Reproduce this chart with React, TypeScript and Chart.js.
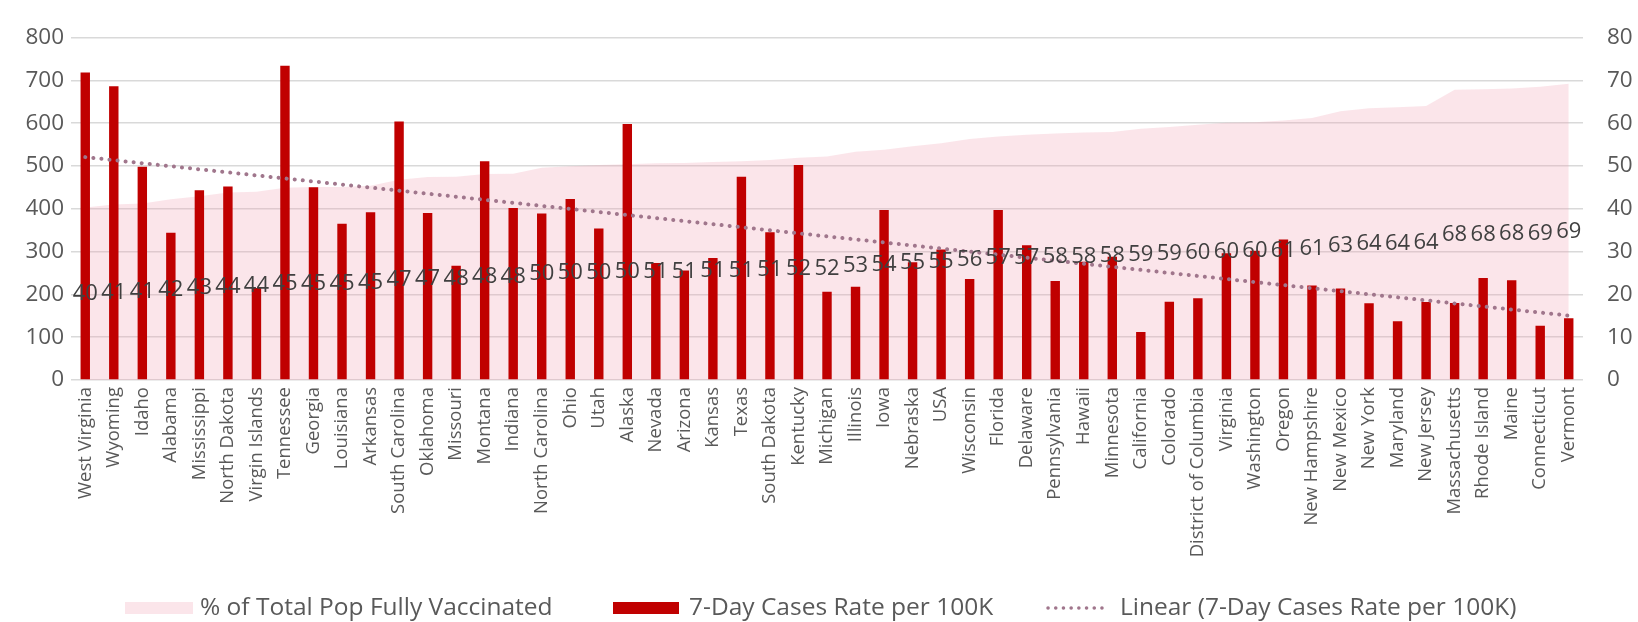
import React, { useEffect, useRef } from "react";
import { Chart, registerables } from "chart.js";

Chart.register(...registerables);

const states: string[] = [
  "West Virginia", "Wyoming", "Idaho", "Alabama", "Mississippi", "North Dakota", "Virgin Islands",
  "Tennessee", "Georgia", "Louisiana", "Arkansas", "South Carolina", "Oklahoma", "Missouri",
  "Montana", "Indiana", "North Carolina", "Ohio", "Utah", "Alaska", "Nevada", "Arizona", "Kansas",
  "Texas", "South Dakota", "Kentucky", "Michigan", "Illinois", "Iowa", "Nebraska", "USA",
  "Wisconsin", "Florida", "Delaware", "Pennsylvania", "Hawaii", "Minnesota", "California",
  "Colorado", "District of Columbia", "Virginia", "Washington", "Oregon", "New Hampshire",
  "New Mexico", "New York", "Maryland", "New Jersey", "Massachusetts", "Rhode Island", "Maine",
  "Connecticut", "Vermont",
];

const pctFullyVaccinated: number[] = [
  40.3, 41.0, 41.2, 42.2, 42.9, 43.8, 44.0, 44.9, 45.1, 45.1, 45.4, 46.8, 47.4, 47.5,
  48.1, 48.2, 49.6, 49.9, 50.2, 50.4, 50.6, 50.7, 50.9, 51.1, 51.4, 51.9, 52.2, 53.3,
  53.8, 54.6, 55.3, 56.3, 56.9, 57.3, 57.6, 57.8, 57.9, 58.7, 59.1, 59.6, 60.1, 60.2,
  60.6, 61.2, 62.8, 63.5, 63.7, 64.0, 67.8, 67.9, 68.1, 68.5, 69.2,
];

const casesPer100K: number[] = [
  718, 686, 498, 344, 443, 452, 215, 734, 450, 365, 392, 604, 390, 267,
  511, 402, 389, 423, 354, 598, 273, 256, 285, 475, 345, 502, 206, 218,
  397, 275, 305, 236, 397, 315, 231, 276, 288, 112, 183, 191, 296, 302,
  328, 221, 214, 179, 137, 182, 180, 238, 233, 127, 144,
];

const leftTicks: number[] = [0, 100, 200, 300, 400, 500, 600, 700, 800];
const rightTicks: number[] = [0, 10, 20, 30, 40, 50, 60, 70, 80];

const legendLabels: string[] = [
  "% of Total Pop Fully Vaccinated",
  "7-Day Cases Rate per 100K",
  "Linear (7-Day Cases Rate per 100K)",
];

// Linear trendline (least squares) of the cases series, as Excel computes it
function linearTrend(values: number[]): number[] {
  const n = values.length;
  let sx = 0, sy = 0, sxy = 0, sxx = 0;
  values.forEach((v, i) => {
    const x = i + 1;
    sx += x; sy += v; sxy += x * v; sxx += x * x;
  });
  const slope = (n * sxy - sx * sy) / (n * sxx - sx * sx);
  const intercept = (sy - slope * sx) / n;
  return values.map((_, i) => intercept + slope * (i + 1));
}

const FONT = "'Open Sans', sans-serif";
const TEXT = "#595959";
const AREA_FILL = "rgba(240,160,180,0.28)";
const BAR = "#c00000";
const TREND = "#a0768c";

const App: React.FC = () => {
  const ref = useRef<HTMLCanvasElement | null>(null);

  useEffect(() => {
    if (!ref.current) return;
    const trend = linearTrend(casesPer100K);

    const labelPlugin = {
      id: "areaLabels",
      afterDatasetsDraw(chart: any) {
        const ctx = chart.ctx;
        const meta = chart.getDatasetMeta(0);
        const y1 = chart.scales.y1;
        ctx.save();
        ctx.font = `22px ${FONT}`;
        ctx.fillStyle = "#404040";
        ctx.textAlign = "center";
        ctx.textBaseline = "middle";
        meta.data.forEach((pt: any, i: number) => {
          const v = pctFullyVaccinated[i];
          ctx.fillText(String(Math.round(v)), pt.x, y1.getPixelForValue(v / 2));
        });
        ctx.restore();
      },
    };

    const legendPlugin = {
      id: "customLegend",
      afterDraw(chart: any) {
        const ctx = chart.ctx;
        const yc = 608;
        ctx.save();
        ctx.font = `24.5px ${FONT}`;
        ctx.textBaseline = "middle";
        ctx.textAlign = "left";
        // item 1: area box
        ctx.fillStyle = AREA_FILL;
        ctx.fillRect(125, yc - 6, 68, 12);
        ctx.fillStyle = TEXT;
        ctx.fillText(legendLabels[0], 200, yc);
        // item 2: bar box
        ctx.fillStyle = BAR;
        ctx.fillRect(613, yc - 6, 66, 12);
        ctx.fillStyle = TEXT;
        ctx.fillText(legendLabels[1], 689, yc);
        // item 3: dotted line
        ctx.strokeStyle = TREND;
        ctx.lineWidth = 3.5;
        ctx.lineCap = "round";
        ctx.setLineDash([0.1, 7.6]);
        ctx.beginPath();
        ctx.moveTo(1048, yc);
        ctx.lineTo(1108, yc);
        ctx.stroke();
        ctx.setLineDash([]);
        ctx.fillStyle = TEXT;
        ctx.fillText(legendLabels[2], 1120, yc);
        ctx.restore();
      },
    };

    const chart = new Chart(ref.current, {
      type: "bar",
      data: {
        labels: states,
        datasets: [
          {
            type: "line",
            label: legendLabels[0],
            data: pctFullyVaccinated,
            yAxisID: "y1",
            fill: "origin",
            backgroundColor: AREA_FILL,
            borderWidth: 0,
            pointRadius: 0,
            tension: 0,
            order: 3,
          } as any,
          {
            type: "bar",
            label: legendLabels[1],
            data: casesPer100K,
            yAxisID: "y",
            backgroundColor: BAR,
            barPercentage: 0.33,
            categoryPercentage: 1,
            order: 2,
          },
          {
            type: "line",
            label: legendLabels[2],
            data: trend,
            yAxisID: "y",
            fill: false,
            borderColor: TREND,
            borderWidth: 4,
            borderCapStyle: "round",
            borderDash: [0.1, 8],
            pointRadius: 0,
            tension: 0,
            order: 1,
          } as any,
        ],
      },
      options: {
        responsive: false,
        animation: false,
        layout: { padding: { top: 21, left: 0, right: 0, bottom: 0 } },
        plugins: { legend: { display: false }, tooltip: { enabled: false } },
        scales: {
          x: {
            grid: { display: false, drawTicks: false },
            border: { display: false },
            ticks: {
              color: TEXT,
              font: { family: FONT, size: 18.5 },
              minRotation: 90,
              maxRotation: 90,
              autoSkip: false,
              padding: 7,
            },
            afterFit(s: any) { s.height = 242; },
          },
          y: {
            position: "left",
            min: 0,
            max: 800,
            afterBuildTicks(s: any) { s.ticks = leftTicks.map((v) => ({ value: v })); },
            grid: { color: "#d9d9d9", lineWidth: 1.5, drawTicks: false },
            border: { display: false },
            ticks: { color: TEXT, font: { family: FONT, size: 22.5 }, padding: 7 },
            afterFit(s: any) { s.width = 71; },
          },
          y1: {
            position: "right",
            min: 0,
            max: 80,
            afterBuildTicks(s: any) { s.ticks = rightTicks.map((v) => ({ value: v })); },
            grid: { display: false, drawTicks: false },
            border: { display: false },
            ticks: { color: TEXT, font: { family: FONT, size: 22.5 }, padding: 24 },
            afterFit(s: any) { s.width = 55; },
          },
        },
      },
      plugins: [labelPlugin, legendPlugin],
    });
    return () => chart.destroy();
  }, []);

  return (
    <div style={{ position: "absolute", left: 0, top: 0, width: 1638, height: 622, background: "#fff" }}>
      <canvas ref={ref} width={1638} height={622} style={{ display: "block" }} />
    </div>
  );
};

export default App;
